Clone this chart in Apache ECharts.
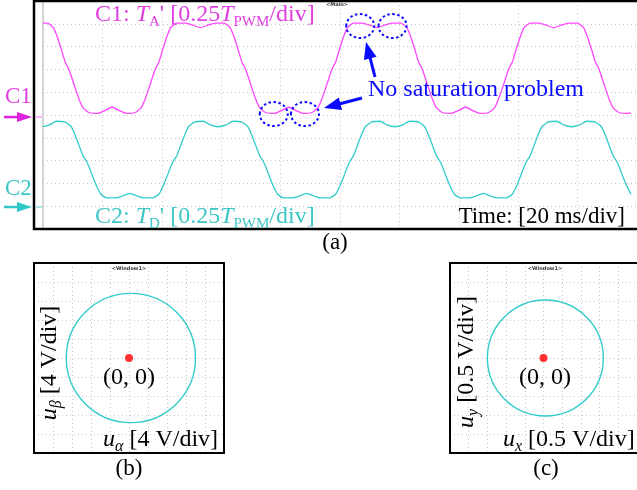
<!DOCTYPE html>
<html><head><meta charset="utf-8">
<script src="https://cdn.jsdelivr.net/npm/echarts@6/dist/echarts.min.js"></script>
<style>html,body{margin:0;padding:0;background:#fff}#c{width:637px;height:490px}</style>
</head><body><div id="c"></div><script>
// ---- Panel (a): time in ms (20 ms/div), values in units of T_PWM (0.25 T_PWM/div)
const timeC1 = [0,1.5,3.5,4.8,6.2,7.5,8.5,9.5,10.8,12.2,13.5,15.5,18.5,20.8,23.25,
 25.7,28,31,33,34.3,35.7,37,38,39,40.3,41.7,43,45,48,50.3,53,
 55.7,58,61,63,64.3,65.7,67,68,69,70.3,71.7,73,75,78,80.3,82.75,
 85.2,87.5,90.5,92.5,93.8,95.2,96.5,97.5,98.5,99.8,101.2,102.5,104.5,107.5,109.8,112.5,
 115.2,117.5,120.5,122.5,123.8,125.2,126.5,127.5,128.5,129.8,131.2,132.5,134.5,137.5,139.8,142.25,
 144.7,147,150,152,153.3,154.7,156,157,158,159.3,160.7,162,164,167,169.3,172,
 174.7,177,180,182,183.3,184.7,186,187,188,189.3,190.7,192,194,197,198];
const valueC1 = [1.03,1.03,0.98,0.88,0.74,0.60,0.54,0.45,0.32,0.19,0.10,0.05,0.04,0.07,0.11,
 0.07,0.04,0.05,0.10,0.19,0.32,0.45,0.54,0.60,0.74,0.88,0.98,1.03,1.03,1.01,0.98,
 1.01,1.03,1.03,0.98,0.88,0.74,0.60,0.54,0.45,0.32,0.19,0.10,0.05,0.04,0.07,0.11,
 0.07,0.04,0.05,0.10,0.19,0.32,0.45,0.54,0.60,0.74,0.88,0.98,1.03,1.03,1.01,0.98,
 1.01,1.03,1.03,0.98,0.88,0.74,0.60,0.54,0.45,0.32,0.19,0.10,0.05,0.04,0.07,0.11,
 0.07,0.04,0.05,0.10,0.19,0.32,0.45,0.54,0.60,0.74,0.88,0.98,1.03,1.03,1.01,0.98,
 1.01,1.03,1.03,0.98,0.88,0.74,0.60,0.54,0.45,0.32,0.19,0.10,0.05,0.04,0.045];
const timeC2 = [0,2.2,4.5,7.5,9.5,10.8,12.2,13.5,14.5,15.5,16.8,18.2,19.5,21.5,24.5,26.8,29.25,
 31.7,34,37,39,40.3,41.7,43,44,45,46.3,47.7,49,51,54,56.3,59,
 61.7,64,67,69,70.3,71.7,73,74,75,76.3,77.7,79,81,84,86.3,88.75,
 91.2,93.5,96.5,98.5,99.8,101.2,102.5,103.5,104.5,105.8,107.2,108.5,110.5,113.5,115.8,118.5,
 121.2,123.5,126.5,128.5,129.8,131.2,132.5,133.5,134.5,135.8,137.2,138.5,140.5,143.5,145.8,148.25,
 150.7,153,156,158,159.3,160.7,162,163,164,165.3,166.7,168,170,173,175.3,178,
 180.7,183,186,188,189.3,190.7,192,193,194,195.3,196.7,198];
const valueC2 = [0.88,0.90,0.94,0.93,0.88,0.79,0.67,0.56,0.51,0.44,0.33,0.22,0.14,0.10,0.10,0.12,0.15,
 0.12,0.10,0.10,0.14,0.22,0.33,0.44,0.51,0.56,0.67,0.79,0.88,0.93,0.94,0.90,0.88,
 0.90,0.94,0.93,0.88,0.79,0.67,0.56,0.51,0.44,0.33,0.22,0.14,0.10,0.10,0.12,0.15,
 0.12,0.10,0.10,0.14,0.22,0.33,0.44,0.51,0.56,0.67,0.79,0.88,0.93,0.94,0.90,0.88,
 0.90,0.94,0.93,0.88,0.79,0.67,0.56,0.51,0.44,0.33,0.22,0.14,0.10,0.10,0.12,0.15,
 0.12,0.10,0.10,0.14,0.22,0.33,0.44,0.51,0.56,0.67,0.79,0.88,0.93,0.94,0.90,0.88,
 0.90,0.94,0.93,0.88,0.79,0.67,0.56,0.51,0.44,0.33,0.22,0.14];
// channel ground offsets (in divisions from the bottom of the 10-div screen)
const offsetC1Div = 4.91, offsetC2Div = 0.965, perDiv = 0.25;

// ---- Panel (b): u_alpha / u_beta circle [V] ; Panel (c): u_x / u_y circle [V]
const circleB = [0.4, 0, 13.6];   // centre x, centre y, radius
const circleC = [0.05, 0, 1.55];
const originPoint = [0, 0];

const serif = "'Liberation Serif','Times New Roman',serif";
const MAG_T = '#ff45ff', MAG_TX = '#e03fe0', CY_T = '#33cccc', CY_TX = '#3fc6c6', BLUE = '#0a0aff';
const gridLine = {show:true, lineStyle:{color:'#c8c8c8', type:[1,3], width:1}};
const hidden = {axisLine:{show:false}, axisTick:{show:false}, axisLabel:{show:false}};

function circleSeries(xi, yi, d){
  return {type:'custom', xAxisIndex:xi, yAxisIndex:yi, silent:true, clip:false,
    data:[d], encode:{x:0, y:1},
    renderItem:(params, api)=>{
      const c = api.coord([api.value(0), api.value(1)]);
      const r = api.size([api.value(2), 0])[0];
      return {type:'circle', shape:{cx:c[0], cy:c[1], r:r}, style:{fill:null, stroke:CY_T, lineWidth:1.4}};
    }};
}

const option = {
  animation:false,
  backgroundColor:'#fff',
  grid:[
    {left:43, top:1, width:600, height:228},
    {left:34, top:263, width:190, height:190},
    {left:450, top:263, width:190, height:190}
  ],
  xAxis:[
    Object.assign({type:'value', gridIndex:0, min:0, max:200, interval:20, splitLine:gridLine}, hidden),
    Object.assign({type:'value', gridIndex:1, min:-20, max:20, interval:4, splitLine:gridLine}, hidden),
    Object.assign({type:'value', gridIndex:2, min:-2.5, max:2.5, interval:0.5, splitLine:gridLine}, hidden)
  ],
  yAxis:[
    {type:'value', gridIndex:0, min:0, max:10, interval:1, splitLine:gridLine,
     axisLine:{show:true, lineStyle:{color:'#c8c8c8', width:1.5}}, axisTick:{show:false}, axisLabel:{show:false}},
    Object.assign({type:'value', gridIndex:0, min:-offsetC1Div*perDiv, max:(10-offsetC1Div)*perDiv, splitLine:{show:false}}, hidden),
    Object.assign({type:'value', gridIndex:0, min:-offsetC2Div*perDiv, max:(10-offsetC2Div)*perDiv, splitLine:{show:false}}, hidden),
    Object.assign({type:'value', gridIndex:1, min:-20, max:20, interval:4, splitLine:gridLine}, hidden),
    Object.assign({type:'value', gridIndex:2, min:-2.5, max:2.5, interval:0.5, splitLine:gridLine}, hidden)
  ],
  series:[
    {type:'line', xAxisIndex:0, yAxisIndex:1, data:timeC1.map((t,i)=>[t, valueC1[i]]),
     showSymbol:false, smooth:0.15, silent:true, lineStyle:{color:MAG_T, width:1.3}},
    {type:'line', xAxisIndex:0, yAxisIndex:2, data:timeC2.map((t,i)=>[t, valueC2[i]]),
     showSymbol:false, smooth:0.15, silent:true, lineStyle:{color:CY_T, width:1.3}},
    circleSeries(1, 3, circleB),
    circleSeries(2, 4, circleC),
    {type:'scatter', xAxisIndex:1, yAxisIndex:3, data:[originPoint], symbolSize:8, silent:true, itemStyle:{color:'#ff0000'}},
    {type:'scatter', xAxisIndex:2, yAxisIndex:4, data:[originPoint], symbolSize:8, silent:true, itemStyle:{color:'#ff0000'}}
  ]
};

const chart = echarts.init(document.getElementById('c'), null, {renderer:'canvas', width:637, height:490});
chart.setOption(option);

// ---- annotations
const px = (si, p) => chart.convertToPixel({seriesIndex:si}, p);
function txt(x, y, text, rich, extra){
  return Object.assign({type:'text', x:x, y:y, z:100, style:{x:0, y:0, text:text, rich:rich,
    align:(extra&&extra.align)||'left', verticalAlign:'middle'}}, extra&&extra.el||{});
}
function richSet(color, big, small){
  return {
    n:{fontFamily:serif, fontSize:big, fill:color, lineHeight:30},
    i:{fontFamily:serif, fontSize:big, fontStyle:'italic', fill:color, lineHeight:30},
    s:{fontFamily:serif, fontSize:small, fill:color, lineHeight:16, verticalAlign:'bottom'},
    si:{fontFamily:serif, fontSize:small, fontStyle:'italic', fill:color, lineHeight:16, verticalAlign:'bottom'}
  };
}
function arrow(x1, y1, x2, y2, color, len, half, w){
  const a = Math.atan2(y2-y1, x2-x1);
  const bx = x2 - len*Math.cos(a), by = y2 - len*Math.sin(a);
  const nx = -Math.sin(a)*half, ny = Math.cos(a)*half;
  return [
    {type:'line', z:100, shape:{x1:x1, y1:y1, x2:bx+ (x2-bx)*0.2, y2:by+(y2-by)*0.2}, style:{stroke:color, lineWidth:w}},
    {type:'polygon', z:100, shape:{points:[[x2,y2],[bx+nx,by+ny],[bx-nx,by-ny]]}, style:{fill:color}}
  ];
}
const g0 = px(0, [0, 0]);   // C1 ground level
const g1 = px(1, [0, 0]);   // C2 ground level
const els = [];
// frames
els.push({type:'rect', z:90, shape:{x:34, y:1, width:660, height:228}, style:{fill:null, stroke:'#000', lineWidth:2.5}});
els.push({type:'rect', z:90, shape:{x:34, y:263, width:190, height:190}, style:{fill:null, stroke:'#000', lineWidth:2}});
els.push({type:'rect', z:90, shape:{x:450, y:263, width:190, height:190}, style:{fill:null, stroke:'#000', lineWidth:2}});
// ground ticks inside frame
els.push({type:'line', z:95, shape:{x1:36, y1:g0[1], x2:42, y2:g0[1]}, style:{stroke:'#ff9cff', lineWidth:1.5}});
els.push({type:'line', z:95, shape:{x1:36, y1:g1[1], x2:42, y2:g1[1]}, style:{stroke:'#8fdcdc', lineWidth:1.5}});
// channel arrows
els.push(...arrow(4, g0[1], 32, g0[1], '#dd22dd', 15, 5, 2.5));
els.push(...arrow(4, g1[1], 32, g1[1], '#33c8c8', 15, 5, 2.5));
// tiny scope labels
els.push({type:'text', z:100, x:337, y:5, style:{text:'<Main>', fontSize:5, fontWeight:'bold', fill:'#333', align:'center', verticalAlign:'middle', fontFamily:'DejaVu Sans'}});
els.push({type:'text', z:100, x:129, y:269, style:{text:'<Window1>', fontSize:5, fontWeight:'bold', fill:'#333', align:'center', verticalAlign:'middle', fontFamily:'DejaVu Sans'}});
els.push({type:'text', z:100, x:545, y:269, style:{text:'<Window1>', fontSize:5, fontWeight:'bold', fill:'#333', align:'center', verticalAlign:'middle', fontFamily:'DejaVu Sans'}});
// channel texts
els.push(txt(95, 15, "{n|C1: }{i|T}{s|A}{n|' [0.25}{i|T}{s|PWM}{n|/div]}", richSet(MAG_TX, 24, 15)));
els.push(txt(95, 217, "{n|C2: }{i|T}{s|D}{n|' [0.25}{i|T}{s|PWM}{n|/div]}", richSet(CY_TX, 24, 15)));
els.push(txt(625, 217, "{n|Time: [20 ms/div]}", richSet('#000', 23, 15), {align:'right'}));
els.push(txt(5, 97, "{n|C1}", richSet(MAG_TX, 23, 15)));
els.push(txt(5, 189, "{n|C2}", richSet(CY_TX, 23, 15)));
els.push(txt(368, 90, "{n|No saturation problem}", richSet(BLUE, 24, 15)));
// dotted ellipses around the flat regions
const ells = [[0, 77.7, 0.033], [0, 88.2, 0.033], [0, 106.8, 0.998], [0, 117.7, 0.998]];
ells.forEach(e => {
  const c = px(e[0], [e[1], e[2]]);
  els.push({type:'ellipse', z:100, shape:{cx:c[0], cy:c[1], rx:14, ry:12}, style:{fill:null, stroke:BLUE, lineWidth:2, lineDash:[2.5,2.5]}});
});
// blue arrows
els.push(...arrow(362, 98, 324, 108, BLUE, 17, 6.5, 3));
els.push(...arrow(375, 77, 366, 42, BLUE, 17, 6.5, 3));
// sub-figure labels
els.push(txt(335, 243, "{n|(a)}", richSet('#000', 23, 15), {align:'center'}));
els.push(txt(129, 469, "{n|(b)}", richSet('#000', 23, 15), {align:'center'}));
els.push(txt(546, 469, "{n|(c)}", richSet('#000', 23, 15), {align:'center'}));
els.push(txt(129, 378, "{n|(0, 0)}", richSet('#000', 24, 15), {align:'center'}));
els.push(txt(545, 378, "{n|(0, 0)}", richSet('#000', 24, 15), {align:'center'}));
els.push(txt(103, 440, "{i|u}{si|α}{n| [4 V/div]}", richSet('#000', 24, 16)));
els.push(txt(503, 440, "{i|u}{si|x}{n| [0.5 V/div]}", richSet('#000', 24, 16)));
els.push(txt(50, 363, "{i|u}{si|β}{n| [4 V/div]}", richSet('#000', 24, 16), {align:'center', el:{rotation:Math.PI/2}}));
els.push(txt(467, 362, "{i|u}{si|y}{n| [0.5 V/div]}", richSet('#000', 24, 16), {align:'center', el:{rotation:Math.PI/2}}));
chart.setOption({graphic:{elements:els}});
</script></body></html>
